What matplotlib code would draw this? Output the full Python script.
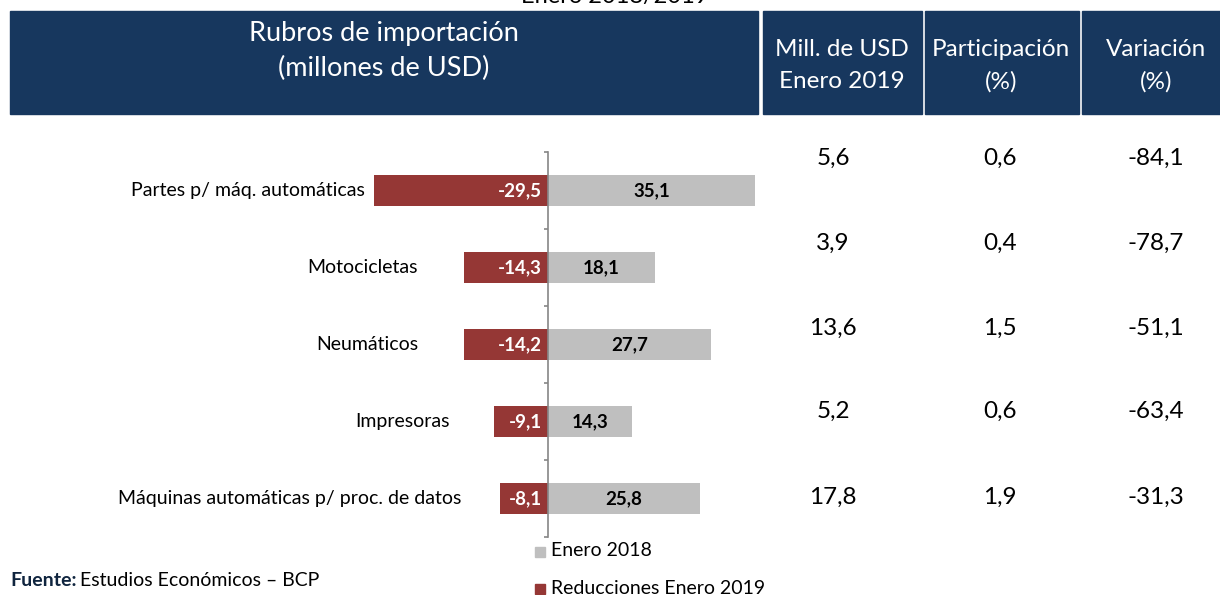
import matplotlib.pyplot as plt
from matplotlib.patches import Rectangle

plt.rcParams['font.family'] = ['Lato', 'DejaVu Sans']

# datos
rubros = ['Partes p/ máq. automáticas', 'Motocicletas', 'Neumáticos',
          'Impresoras', 'Máquinas automáticas p/ proc. de datos']
enero_2018 = [35.1, 18.1, 27.7, 14.3, 25.8]
reducciones_2019 = [-29.5, -14.3, -14.2, -9.1, -8.1]
mill_usd_2019 = ['5,6', '3,9', '13,6', '5,2', '17,8']
participacion = ['0,6', '0,4', '1,5', '0,6', '1,9']
variacion = ['-84,1', '-78,7', '-51,1', '-63,4', '-31,3']

W, H = 1220, 595
navy = '#17375E'
rojo = '#953735'
gris = '#BFBFBF'

fig = plt.figure(figsize=(W / 100, H / 100), dpi=100)


def fx(px):
    return px / W


def fy(py):
    return 1 - py / H


# titulo cortado arriba
fig.text(fx(615), fy(3), 'Enero 2018/2019', ha='center', va='baseline',
         fontsize=17, color='black')

# cabecera de la tabla
cajas = [(10, 758), (763, 922), (925, 1079), (1082, 1220)]
for x0, x1 in cajas:
    fig.patches.append(Rectangle((fx(x0), fy(114)), fx(x1 - x0), (114 - 11) / H,
                                 transform=fig.transFigure, color=navy, zorder=0))

fig.text(fx(384), fy(33), 'Rubros de importación', ha='center', va='center',
         fontsize=19.5, color='white')
fig.text(fx(384), fy(68), '(millones de USD)', ha='center', va='center',
         fontsize=19.5, color='white')
cabeceras = [('Mill. de USD', 'Enero 2019', 842),
             ('Participación', '(%)', 1001),
             ('Variación', '(%)', 1156)]
for l1, l2, cx in cabeceras:
    fig.text(fx(cx), fy(49), l1, ha='center', va='center', fontsize=17.5, color='white')
    fig.text(fx(cx), fy(82), l2, ha='center', va='center', fontsize=17.5, color='white')

# barras
ax_l, ax_r = 100, 760
escala = 5.9  # px por unidad
x0_px = 548
ax = fig.add_axes([fx(ax_l), fy(537), fx(ax_r - ax_l), (537 - 152) / H])
ax.set_xlim((ax_l - x0_px) / escala, (ax_r - x0_px) / escala)
y = list(range(len(rubros)))
ax.set_ylim(4.5, -0.5)

ax.barh(y, reducciones_2019, height=0.4, color=rojo, label='Reducciones Enero 2019')
ax.barh(y, enero_2018, height=0.4, color=gris, label='Enero 2018')

for i in y:
    ax.text(-1.1, i, f'{reducciones_2019[i]:.1f}'.replace('.', ','), ha='right',
            va='center', color='white', fontsize=13.5, fontweight='bold')
    ax.text(enero_2018[i] / 2, i, f'{enero_2018[i]:.1f}'.replace('.', ','), ha='center',
            va='center', color='black', fontsize=13.5, fontweight='bold')

# etiquetas de categorias (posicion del borde derecho, px)
fin_etiqueta = [365, 418, 418, 450, 461]
for i in y:
    ax.text((fin_etiqueta[i] - x0_px) / escala, i, rubros[i], ha='right', va='center',
            fontsize=14, color='black')

for s in ['top', 'right', 'bottom']:
    ax.spines[s].set_visible(False)
ax.spines['left'].set_position(('data', 0))
ax.spines['left'].set_color('#868686')
ax.spines['left'].set_linewidth(1.2)
ax.set_xticks([])
ax.set_yticks([i - 0.5 for i in range(len(rubros) + 1)])
ax.set_yticklabels([])
ax.tick_params(axis='y', direction='out', length=3, color='#868686', width=1.2)
ax.patch.set_visible(False)

# columnas de la tabla
filas_y = [158, 243, 328, 411, 497]
for i in y:
    fig.text(fx(833), fy(filas_y[i]), mill_usd_2019[i], ha='center', va='center', fontsize=17.5)
    fig.text(fx(1000), fy(filas_y[i]), participacion[i], ha='center', va='center', fontsize=17.5)
    fig.text(fx(1156), fy(filas_y[i]), variacion[i], ha='center', va='center', fontsize=17.5)

# leyenda
fig.patches.append(Rectangle((fx(535), fy(557)), fx(10), 10 / H, transform=fig.transFigure,
                             color=gris))
fig.text(fx(551), fy(551), 'Enero 2018', ha='left', va='center', fontsize=14)
fig.patches.append(Rectangle((fx(535), fy(594)), fx(10), 10 / H, transform=fig.transFigure,
                             color=rojo))
fig.text(fx(551), fy(588), 'Reducciones Enero 2019', ha='left', va='center', fontsize=14)

# fuente
fig.text(fx(10), fy(581), 'Fuente:', ha='left', va='center', fontsize=14,
         color='#0F243E', fontweight='bold')
fig.text(fx(80), fy(581), 'Estudios Económicos – BCP', ha='left', va='center', fontsize=14)

fig.savefig('out.png', dpi=100)
